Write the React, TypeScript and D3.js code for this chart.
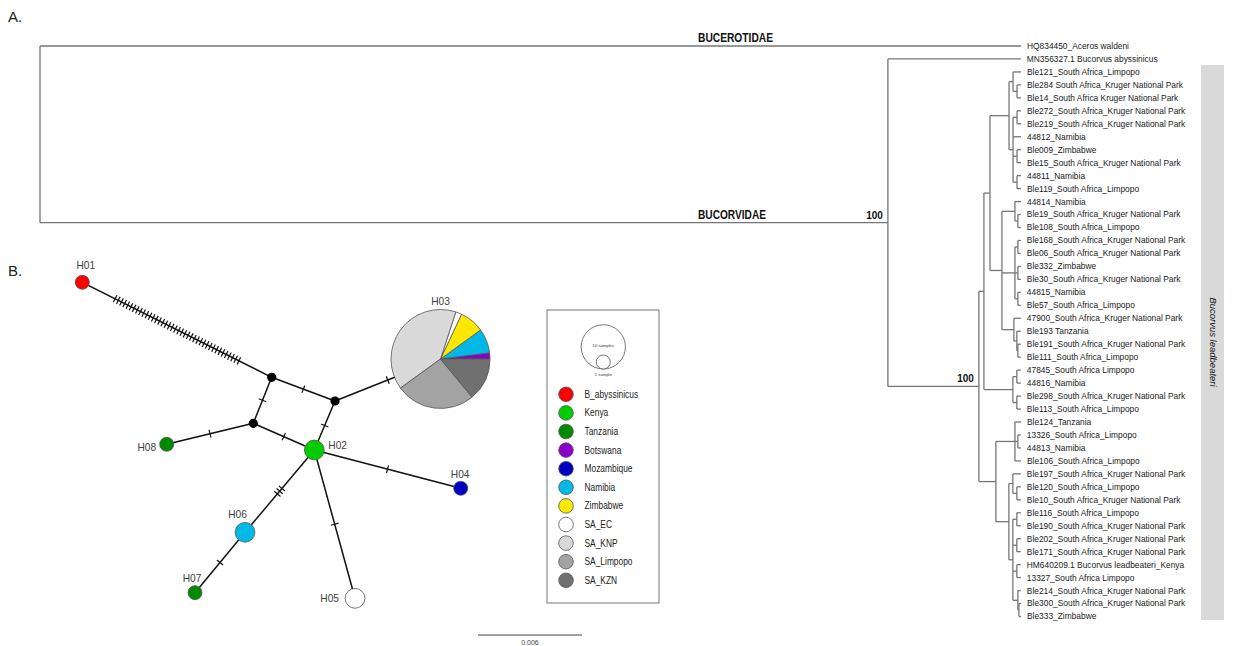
import React from 'react';
import * as d3 from 'd3';

// ---------------- Panel A: phylogenetic tree data ----------------
const LEAF_NAMES = [
  'HQ834450_Aceros waldeni',
  'MN356327.1 Bucorvus abyssinicus',
  'Ble121_South Africa_Limpopo',
  'Ble284 South Africa_Kruger National Park',
  'Ble14_South Africa Kruger National Park',
  'Ble272_South Africa_Kruger National Park',
  'Ble219_South Africa_Kruger National Park',
  '44812_Namibia',
  'Ble009_Zimbabwe',
  'Ble15_South Africa_Kruger National Park',
  '44811_Namibia',
  'Ble119_South Africa_Limpopo',
  '44814_Namibia',
  'Ble19_South Africa_Kruger National Park',
  'Ble108_South Africa_Limpopo',
  'Ble168_South Africa_Kruger National Park',
  'Ble06_South Africa_Kruger National Park',
  'Ble332_Zimbabwe',
  'Ble30_South Africa_Kruger National Park',
  '44815_Namibia',
  'Ble57_South Africa_Limpopo',
  '47900_South Africa_Kruger National Park',
  'Ble193 Tanzania',
  'Ble191_South Africa_Kruger National Park',
  'Ble111_South Africa_Limpopo',
  '47845_South Africa Limpopo',
  '44816_Namibia',
  'Ble298_South Africa_Kruger National Park',
  'Ble113_South Africa_Limpopo',
  'Ble124_Tanzania',
  '13326_South Africa_Limpopo',
  '44813_Namibia',
  'Ble106_South Africa_Limpopo',
  'Ble197_South Africa_Kruger National Park',
  'Ble120_South Africa_Limpopo',
  'Ble10_South Africa_Kruger National Park',
  'Ble116_South Africa_Limpopo',
  'Ble190_South Africa_Kruger National Park',
  'Ble202_South Africa_Kruger National Park',
  'Ble171_South Africa_Kruger National Park',
  'HM640209.1 Bucorvus leadbeateri_Kenya',
  '13327_South Africa Limpopo',
  'Ble214_South Africa_Kruger National Park',
  'Ble300_South Africa_Kruger National Park',
  'Ble333_Zimbabwe',
];

// Topology with branch lengths (substitutions/site); leaves are indices into LEAF_NAMES
const TREE_NEWICK =
  '(0:0.05660,(1:0.00767,(((' +
  '((2:0.00046,(3:0.00023,4:0.00023):0.00023):0.00023,((5:0.00023,6:0.00023):0.00023,7:0.00046,(8:0.00023,9:0.00023):0.00023,(10:0.00023,11:0.00023):0.00023):0.00023):0.00110,' +
  '((12:0.00035,(13:0.00017,14:0.00017):0.00017):0.00075,((15:0.00017,16:0.00017):0.00017,(17:0.00017,18:0.00017):0.00017,(19:0.00017,20:0.00017):0.00017):0.00075,(21:0.00040,(22:0.00023,(23:0.00017,24:0.00017):0.00006):0.00017):0.00069):0.00069' +
  '):0.00035,((25:0.00023,26:0.00023):0.00023,(27:0.00023,28:0.00023):0.00023):0.00167):0.00029,' +
  '((29:0.00035,(30:0.00017,31:0.00017):0.00017,32:0.00035):0.00110,((33:0.00046,(34:0.00023,35:0.00023):0.00023):0.00023,((36:0.00023,37:0.00023):0.00023,(38:0.00023,39:0.00023):0.00023,(40:0.00023,41:0.00023):0.00023,(42:0.00017,(43:0.00012,44:0.00012):0.00006):0.00029):0.00023):0.00075):0.00098' +
  '):0.00525):0.04892);';

const MAX_DEPTH = 0.0566;
const SCALE_BAR_VALUE = 0.006;
const BOOTSTRAP_VALUES = [100, 100];
const CLADE_NAMES = ['BUCEROTIDAE', 'BUCORVIDAE'];
const SPECIES_BAR_LABEL = 'Bucorvus leadbeateri';

// ---------------- Panel B: haplotype network data ----------------
const POPULATIONS = ['B_abyssinicus', 'Kenya', 'Tanzania', 'Botswana', 'Mozambique', 'Namibia', 'Zimbabwe', 'SA_EC', 'SA_KNP', 'SA_Limpopo', 'SA_KZN'];
const POP_COLORS = ['#ff0000', '#00cc00', '#008a00', '#8a00c8', '#0000c0', '#00b9e6', '#ffe800', '#ffffff', '#d9d9d9', '#a3a3a3', '#707070'];

const HAPLOTYPES = ['H01', 'H02', 'H03', 'H04', 'H05', 'H06', 'H07', 'H08'];
// layout coordinates (network units)
const HAP_X = [5.07, 57.8, 86.48, 91.07, 67.05, 42.05, 30.68, 24.25];
const HAP_Y = [5.07, 43.18, 22.5, 51.89, 76.89, 61.89, 75.61, 41.89];
// sample counts per population (order of POPULATIONS)
const HAP_COUNTS = [
  [1, 0, 0, 0, 0, 0, 0, 0, 0, 0, 0],
  [0, 2, 0, 0, 0, 0, 0, 0, 0, 0, 0],
  [0, 0, 0, 1, 0, 4, 4, 1, 20, 13, 7],
  [0, 0, 0, 0, 1, 0, 0, 0, 0, 0, 0],
  [0, 0, 0, 0, 0, 0, 0, 2, 0, 0, 0],
  [0, 0, 0, 0, 0, 2, 0, 0, 0, 0, 0],
  [0, 0, 1, 0, 0, 0, 0, 0, 0, 0, 0],
  [0, 0, 1, 0, 0, 0, 0, 0, 0, 0, 0],
];
const MEDIAN_IDS = ['M1', 'M2', 'M3'];
const MEDIAN_X = [48.11, 62.5, 43.93];
const MEDIAN_Y = [26.66, 32.05, 37.11];
// edges: [from, to, number of mutations]
const EDGES: [string, string, number][] = [
  ['H01', 'M1', 40],
  ['M1', 'M2', 1],
  ['M1', 'M3', 1],
  ['M2', 'H03', 1],
  ['M2', 'H02', 1],
  ['M3', 'H08', 1],
  ['M3', 'H02', 1],
  ['H02', 'H04', 1],
  ['H02', 'H05', 1],
  ['H02', 'H06', 3],
  ['H06', 'H07', 1],
];
const SIZE_LEGEND = [10, 1];
const SIZE_LEGEND_LABELS = ['10 samples', '1 sample'];

// label placement per haplotype (style)
const HAP_LABEL_POS: Record<string, { dx: number; dy: number; anchor: string }> = {
  H01: { dx: 3.5, dy: -13, anchor: 'middle' },
  H02: { dx: 14, dy: -0.5, anchor: 'start' },
  H03: { dx: 0, dy: -54, anchor: 'middle' },
  H04: { dx: -0.5, dy: -10, anchor: 'middle' },
  H05: { dx: -16, dy: 3.7, anchor: 'end' },
  H06: { dx: -7.5, dy: -14, anchor: 'middle' },
  H07: { dx: -3, dy: -10.5, anchor: 'middle' },
  H08: { dx: -10.5, dy: 7, anchor: 'end' },
};

type TNode = { name?: string; length: number; children?: TNode[] };
function parseNewick(s: string): TNode {
  let i = 0;
  function parseNode(): TNode {
    const node: TNode = { length: 0 };
    if (s[i] === '(') {
      i++;
      node.children = [];
      let guard = 0;
      while (i < s.length && guard++ < 1000) {
        const before = i;
        node.children.push(parseNode());
        if (s[i] === ',') { i++; continue; }
        if (s[i] === ')') { i++; break; }
        if (i === before) { i++; }
      }
    }
    let name = '';
    while (i < s.length && !',():;'.includes(s[i])) name += s[i++];
    if (name) node.name = name;
    if (s[i] === ':') {
      i++;
      let num = '';
      while (i < s.length && !',();'.includes(s[i])) num += s[i++];
      node.length = parseFloat(num);
    }
    return node;
  }
  return parseNode();
}

const FONT = "'Liberation Sans', Arial, sans-serif";
const NARROW = "'Liberation Sans Narrow', 'Arial Narrow', 'Liberation Sans', sans-serif";

export default function App() {
  // ---- tree layout ----
  const root: any = d3.hierarchy(parseNewick(TREE_NEWICK));
  root.each((n: any) => { n.dist = n.parent ? n.parent.dist + n.data.length : 0; });
  const leaves = root.leaves();
  const yLeaf = d3.scaleLinear().domain([0, leaves.length - 1]).range([46, 616.5]);
  leaves.forEach((l: any, i: number) => { l.yy = yLeaf(i); });
  root.eachAfter((n: any) => {
    if (n.children) n.yy = (n.children[0].yy + n.children[n.children.length - 1].yy) / 2;
  });
  const xT = d3.scaleLinear().domain([0, MAX_DEPTH]).range([40, 1021]);
  const treeStroke = '#767676';
  const treeLines: any[] = [];
  root.each((n: any) => {
    if (n.parent) {
      treeLines.push(<line key={'h' + treeLines.length} x1={xT(n.parent.dist)} x2={xT(n.dist)} y1={n.yy} y2={n.yy} stroke={treeStroke} strokeWidth={1.3} />);
    }
    if (n.children) {
      treeLines.push(<line key={'v' + treeLines.length} x1={xT(n.dist)} x2={xT(n.dist)} y1={n.children[0].yy} y2={n.children[n.children.length - 1].yy} stroke={treeStroke} strokeWidth={1.3} />);
    }
  });
  const bucorvidae = root.children[1];
  const leadbeateri = bucorvidae.children[1];
  const bootNodes = [bucorvidae, leadbeateri];

  // ---- network layout ----
  const xN = d3.scaleLinear().domain([0, 100]).range([60, 500]);
  const yN = d3.scaleLinear().domain([0, 80]).range([260, 612]);
  const rS = d3.scaleSqrt().domain([0, 1]).range([0, 7.0]);
  const pos: Record<string, { x: number; y: number }> = {};
  HAPLOTYPES.forEach((h, i) => { pos[h] = { x: xN(HAP_X[i]), y: yN(HAP_Y[i]) }; });
  MEDIAN_IDS.forEach((m, i) => { pos[m] = { x: xN(MEDIAN_X[i]), y: yN(MEDIAN_Y[i]) }; });

  const pie = d3.pie<any>().sort(null).value((d: any) => d.v).startAngle(Math.PI / 2).endAngle(Math.PI / 2 - 2 * Math.PI);

  const hatch = (a: { x: number; y: number }, b: { x: number; y: number }, n: number) => {
    const dx = b.x - a.x, dy = b.y - a.y;
    const L = Math.hypot(dx, dy);
    const ux = dx / L, uy = dy / L;
    const px = -uy, py = ux;
    const mx = (a.x + b.x) / 2, my = (a.y + b.y) / 2;
    const sp = 3.55, h = 4;
    return d3.range(n).map((i) => {
      const t = (i - (n - 1) / 2) * sp;
      const cx = mx + ux * t, cy = my + uy * t;
      return [cx - px * h, cy - py * h, cx + px * h, cy + py * h];
    });
  };

  const legendX = 547, legendY = 310, legendW = 112, legendH = 293;
  const legendItemY = d3.scaleLinear().domain([0, POPULATIONS.length - 1]).range([394.3, 580.3]);

  return (
    <svg width={1234} height={646} style={{ position: 'absolute', left: 0, top: 0, background: '#fff' }} fontFamily={FONT}>
      <rect x={0} y={0} width={1234} height={646} fill="#fff" />
      {/* Panel labels */}
      <text x={8} y={22} fontSize={15} fill="#222" fontFamily={NARROW}>A.</text>
      <text x={8} y={276} fontSize={15} fill="#222" fontFamily={NARROW}>B.</text>

      {/* ---------- Tree ---------- */}
      {treeLines}
      {leaves.map((l: any, i: number) => (
        <text key={'lab' + i} x={xT(l.dist) + 6} y={l.yy} dy="0.35em" fontSize={8.4} fill="#1a1a1a">{LEAF_NAMES[+l.data.name]}</text>
      ))}
      <text x={698} y={42} fontSize={12} fontWeight="bold" fontFamily={NARROW} fill="#111" textLength={75} lengthAdjust="spacingAndGlyphs">{CLADE_NAMES[0]}</text>
      <text x={698} y={219} fontSize={12} fontWeight="bold" fontFamily={NARROW} fill="#111" textLength={68} lengthAdjust="spacingAndGlyphs">{CLADE_NAMES[1]}</text>
      {bootNodes.map((n: any, i: number) => (
        <text key={'bs' + i} x={xT(n.dist) - 5} y={n.yy - 4} textAnchor="end" fontSize={10} fontWeight="bold" fill="#111">{BOOTSTRAP_VALUES[i]}</text>
      ))}
      <rect x={1201} y={65} width={23} height={555} fill="#d9d9d9" />
      <text transform={`translate(1210,342) rotate(90)`} textAnchor="middle" fontSize={9.5} fontStyle="italic" fill="#111">{SPECIES_BAR_LABEL}</text>
      {/* scale bar */}
      <line x1={478} x2={478 + xT(SCALE_BAR_VALUE) - xT(0)} y1={635} y2={635} stroke="#808080" strokeWidth={1.5} />
      <text x={478 + (xT(SCALE_BAR_VALUE) - xT(0)) / 2} y={645} textAnchor="middle" fontSize={7} fill="#444">{SCALE_BAR_VALUE.toFixed(3)}</text>

      {/* ---------- Network ---------- */}
      {EDGES.map(([a, b], i) => (
        <line key={'e' + i} x1={pos[a].x} y1={pos[a].y} x2={pos[b].x} y2={pos[b].y} stroke="#111" strokeWidth={1.5} />
      ))}
      {EDGES.map(([a, b, n], i) => hatch(pos[a], pos[b], n).map((t, j) => (
        <line key={'t' + i + '_' + j} x1={t[0]} y1={t[1]} x2={t[2]} y2={t[3]} stroke="#111" strokeWidth={1.2} />
      )))}
      {MEDIAN_IDS.map((m) => (
        <circle key={m} cx={pos[m].x} cy={pos[m].y} r={4.6} fill="#000" />
      ))}
      {HAPLOTYPES.map((h, i) => {
        const counts = HAP_COUNTS[i];
        const total = d3.sum(counts);
        const r = rS(total);
        const data = counts.map((v, k) => ({ v, k })).filter((d) => d.v > 0);
        const p = pos[h];
        if (data.length === 1) {
          return <circle key={h} cx={p.x} cy={p.y} r={r} fill={POP_COLORS[data[0].k]} stroke="#555" strokeWidth={0.8} />;
        }
        const arc = d3.arc<any>().innerRadius(0).outerRadius(r);
        return (
          <g key={h} transform={`translate(${p.x},${p.y})`}>
            {pie(data).map((s: any, j: number) => (
              <path key={j} d={arc(s) || ''} fill={POP_COLORS[s.data.k]} stroke="#555" strokeWidth={0.8} />
            ))}
          </g>
        );
      })}
      {HAPLOTYPES.map((h) => {
        const lp = HAP_LABEL_POS[h];
        return (
          <text key={'hl' + h} x={pos[h].x + lp.dx} y={pos[h].y + lp.dy} textAnchor={lp.anchor as any} fontSize={10.2} fill="#404040">{h}</text>
        );
      })}

      {/* ---------- Legend ---------- */}
      <rect x={legendX} y={legendY} width={legendW} height={legendH} fill="#fff" stroke="#777" strokeWidth={1} />
      {SIZE_LEGEND.map((n, i) => (
        <circle key={'sl' + i} cx={603.3} cy={369 - rS(n)} r={rS(n)} fill="#fff" stroke="#555" strokeWidth={0.8} />
      ))}
      <text x={603.3} y={347} textAnchor="middle" fontSize={4.2} fill="#333">{SIZE_LEGEND_LABELS[0]}</text>
      <text x={603.3} y={375.5} textAnchor="middle" fontSize={4.2} fill="#333">{SIZE_LEGEND_LABELS[1]}</text>
      {POPULATIONS.map((p, i) => (
        <g key={'lg' + p}>
          <circle cx={566} cy={legendItemY(i)} r={7.3} fill={POP_COLORS[i]} stroke="#555" strokeWidth={0.8} />
          <text transform={`translate(584.5,${legendItemY(i)}) scale(0.84,1)`} dy="0.35em" fontSize={10} fill="#222">{p}</text>
        </g>
      ))}
    </svg>
  );
}
